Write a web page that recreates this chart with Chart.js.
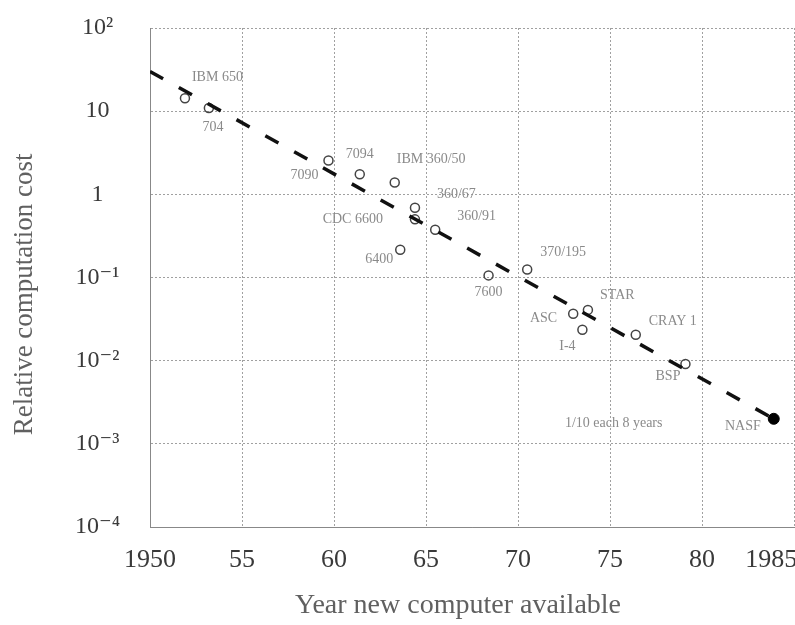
<!DOCTYPE html>
<html>
<head>
<meta charset="utf-8">
<script src="https://cdn.jsdelivr.net/npm/chart.js@4.4.0/dist/chart.umd.min.js"></script>
<style>
  body { margin: 0; background: #fff; }
</style>
</head>
<body>
<canvas id="chart" width="795" height="625"></canvas>
<script>
// machines
const machines = ['IBM 650', '704', '7090', '7094', 'IBM 360/50', '360/67', 'CDC 6600', '360/91', '6400', '7600', '370/195', 'ASC', 'STAR', 'I-4', 'CRAY 1', 'BSP'];
const machineYears = [1951.9, 1953.2, 1959.7, 1961.4, 1963.3, 1964.4, 1964.4, 1965.5, 1963.6, 1968.4, 1970.5, 1973.0, 1973.8, 1973.5, 1976.4, 1979.1];
const machineCosts = [14.3, 10.9, 2.55, 1.74, 1.39, 0.69, 0.50, 0.376, 0.216, 0.106, 0.125, 0.0366, 0.0408, 0.0235, 0.0205, 0.0091];

const futureNames = ['NASF'];
const futureYears = [1983.9];
const futureCosts = [0.002];

const trendYears = [1950, 1983.9];
const trendCosts = [30, 0.002];
const trendNote = '1/10 each 8 years';
const trendNoteYear = 1975.2;
const trendNoteCost = 0.00174;

const xTickYears = [1950, 1955, 1960, 1965, 1970, 1975, 1980, 1985];
const xTickLabels = ['1950', '55', '60', '65', '70', '75', '80', '1985       '];
const yTickValues = [1e-4, 1e-3, 1e-2, 1e-1, 1, 10, 100];
const yTickLabels = ['10⁻⁴', '10⁻³', '10⁻²', '10⁻¹', '1', '10', '10²'];

// where each name sits next to its circle: dx, dy, align
const machineLabelPos = [
  [7, -21, 'left'], [4, 19, 'center'], [-10, 15, 'right'], [0, -20, 'center'],
  [2, -23, 'left'], [22, -13, 'left'], [-32, 0, 'right'], [22, -13, 'left'],
  [-7, 10, 'right'], [0, 17, 'center'], [13, -17, 'left'], [-16, 5, 'right'],
  [12, -15, 'left'], [-15, 17, 'center'], [13, -13, 'left'], [-5, 12, 'right']
];
const futureLabelPos = [[-13, 8, 'right']];

const serif = '"Liberation Serif", "DejaVu Serif", serif';

const pointLabels = {
  id: 'pointLabels',
  afterDatasetsDraw(chart) {
    const ctx = chart.ctx;
    ctx.save();
    ctx.font = '14px ' + serif;
    ctx.fillStyle = '#8a8a8a';
    ctx.textBaseline = 'middle';

    const put = (meta, names, pos) => {
      meta.data.forEach((pt, i) => {
        const [dx, dy, align] = pos[i];
        ctx.textAlign = align;
        ctx.fillText(names[i], pt.x + dx, pt.y + dy);
      });
    };
    put(chart.getDatasetMeta(1), machines, machineLabelPos);
    put(chart.getDatasetMeta(2), futureNames, futureLabelPos);

    ctx.textAlign = 'center';
    ctx.fillText(trendNote,
      chart.scales.x.getPixelForValue(trendNoteYear),
      chart.scales.y.getPixelForValue(trendNoteCost));
    ctx.restore();
  }
};

const noEdgePad = (scale) => {
  scale.paddingLeft = 0;
  scale.paddingRight = 0;
  scale.paddingTop = 0;
  scale.paddingBottom = 0;
};

new Chart(document.getElementById('chart').getContext('2d'), {
  type: 'scatter',
  data: {
    datasets: [{
      data: trendYears.map((x, i) => ({x: x, y: trendCosts[i]})),
      showLine: true,
      borderColor: '#111',
      borderWidth: 3.5,
      borderDash: [15, 18],
      pointRadius: 0
    }, {
      data: machineYears.map((x, i) => ({x: x, y: machineCosts[i]})),
      pointRadius: 4.5,
      borderColor: '#444',
      borderWidth: 1.5,
      backgroundColor: 'rgba(255,255,255,0)'
    }, {
      data: futureYears.map((x, i) => ({x: x, y: futureCosts[i]})),
      pointRadius: 5.5,
      borderColor: '#000',
      backgroundColor: '#000'
    }]
  },
  options: {
    responsive: false,
    animation: false,
    devicePixelRatio: 1,
    layout: { autoPadding: false, padding: { top: 28, right: 1, bottom: 0, left: 0 } },
    plugins: { legend: { display: false }, tooltip: { enabled: false } },
    scales: {
      x: {
        type: 'linear',
        min: 1950,
        max: 1985,
        afterBuildTicks: (scale) => { scale.ticks = xTickYears.map(v => ({value: v})); },
        afterFit: (scale) => { scale.height = 98; noEdgePad(scale); },
        grid: { color: '#a0a0a0', drawTicks: false },
        border: { color: '#888', dash: [2, 2] },
        ticks: {
          padding: 18,
          color: '#3a3a3a',
          font: { family: serif, size: 26 },
          maxRotation: 0,
          autoSkip: false,
          callback: (v) => xTickLabels[xTickYears.indexOf(v)]
        },
        title: {
          display: true,
          text: 'Year new computer available    ',
          color: '#606060',
          font: { family: serif, size: 28 },
          padding: { top: 0, bottom: 3 }
        }
      },
      y: {
        type: 'logarithmic',
        min: 1e-4,
        max: 100,
        afterBuildTicks: (scale) => { scale.ticks = yTickValues.map(v => ({value: v})); },
        afterFit: (scale) => { scale.width = 150; noEdgePad(scale); },
        grid: { color: '#a0a0a0', drawTicks: false },
        border: { color: '#888', dash: [2, 2] },
        ticks: {
          padding: 30,
          crossAlign: 'center',
          color: '#3a3a3a',
          font: { family: serif, size: 24 },
          callback: (v) => yTickLabels[yTickValues.indexOf(v)]
        },
        title: {
          display: true,
          text: 'Relative computation cost     ',
          color: '#606060',
          font: { family: serif, size: 27 },
          padding: { top: 9, bottom: 0 }
        }
      }
    }
  },
  plugins: [pointLabels]
});
</script>
</body>
</html>
